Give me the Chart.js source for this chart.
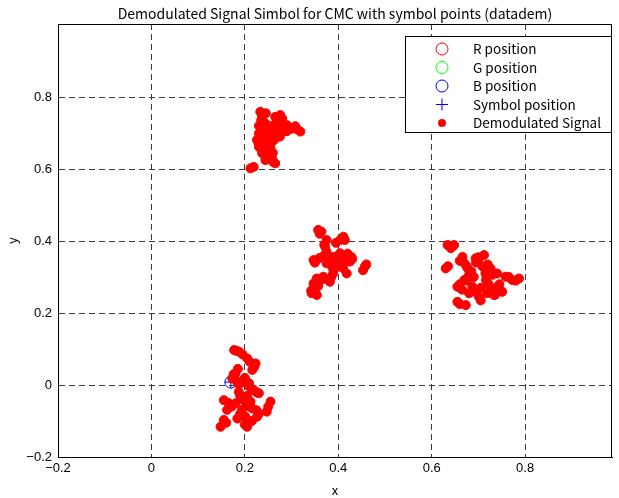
<!DOCTYPE html>
<html lang="en">
  <head>
    <meta charset="UTF-8" />
    <title>Demodulated Signal Simbol for CMC</title>
    <script src="https://cdn.jsdelivr.net/npm/chart.js"></script>
    <style>
      body {
        margin: 0;
        background-color: #ffffff;
      }
      #wrap {
        width: 619px;
        height: 498px;
      }
    </style>
  </head>
  <body>
    <div id="wrap"><canvas id="demodChart" width="619" height="498"></canvas></div>
    <script>
      // reference symbol positions, [x, y]
      const rPosition = [[0.733, 0.255], [0.393, 0.33]];
      const gPosition = [[0.285, 0.718], [0.393, 0.33]];
      const bPosition = [[0.17, 0.008], [0.393, 0.33]];
      const symbolPosition = [[0.17, 0.008], [0.285, 0.718], [0.393, 0.33], [0.733, 0.255]];

      // demodulated samples, one list per symbol cluster
      const clusterTop = [
        [0.233, 0.759], [0.237, 0.745], [0.244, 0.727], [0.276, 0.75], [0.272, 0.736],
        [0.262, 0.722], [0.255, 0.708], [0.294, 0.717], [0.308, 0.719], [0.319, 0.704],
        [0.23, 0.699], [0.226, 0.681], [0.24, 0.69], [0.265, 0.699], [0.279, 0.704],
        [0.23, 0.662], [0.237, 0.644], [0.247, 0.639], [0.258, 0.63], [0.265, 0.616],
        [0.244, 0.625], [0.255, 0.657], [0.219, 0.606], [0.212, 0.602], [0.25, 0.68],
        [0.26, 0.69], [0.245, 0.665], [0.27, 0.715], [0.285, 0.71], [0.25, 0.72],
        [0.265, 0.745], [0.24, 0.65], [0.229, 0.672], [0.252, 0.648], [0.3, 0.712],
        [0.235, 0.735], [0.24, 0.71], [0.25, 0.7], [0.26, 0.71], [0.268, 0.725],
        [0.28, 0.725], [0.29, 0.705], [0.235, 0.68], [0.245, 0.675], [0.255, 0.67],
        [0.262, 0.68], [0.27, 0.69], [0.235, 0.655], [0.245, 0.65], [0.26, 0.645],
        [0.252, 0.632], [0.26, 0.62], [0.275, 0.69], [0.245, 0.755], [0.28, 0.74],
        [0.312, 0.71], [0.23, 0.72], [0.283, 0.718], [0.29, 0.722]
      ];
      const clusterMid = [
        [0.357, 0.431], [0.364, 0.426], [0.375, 0.403], [0.372, 0.384], [0.375, 0.37],
        [0.411, 0.412], [0.414, 0.403], [0.404, 0.403], [0.347, 0.347], [0.382, 0.347],
        [0.404, 0.366], [0.396, 0.347], [0.428, 0.356], [0.425, 0.343], [0.411, 0.338],
        [0.457, 0.329], [0.453, 0.319], [0.418, 0.31], [0.354, 0.296], [0.347, 0.282],
        [0.368, 0.301], [0.382, 0.287], [0.389, 0.31], [0.343, 0.255], [0.354, 0.25],
        [0.375, 0.338], [0.37, 0.36], [0.39, 0.356], [0.398, 0.33], [0.36, 0.42],
        [0.37, 0.39], [0.38, 0.355], [0.39, 0.34], [0.4, 0.36], [0.415, 0.345],
        [0.42, 0.365], [0.36, 0.29], [0.37, 0.295], [0.385, 0.3], [0.35, 0.34],
        [0.395, 0.395], [0.41, 0.325], [0.357, 0.275], [0.342, 0.262], [0.36, 0.353],
        [0.43, 0.35], [0.46, 0.335], [0.388, 0.325]
      ];
      const clusterRight = [
        [0.634, 0.389], [0.648, 0.389], [0.641, 0.38], [0.63, 0.324], [0.666, 0.356],
        [0.67, 0.338], [0.677, 0.324], [0.694, 0.352], [0.712, 0.361], [0.709, 0.329],
        [0.726, 0.324], [0.73, 0.306], [0.68, 0.306], [0.67, 0.292], [0.655, 0.273],
        [0.687, 0.273], [0.716, 0.292], [0.758, 0.301], [0.772, 0.292], [0.787, 0.296],
        [0.737, 0.269], [0.751, 0.259], [0.719, 0.255], [0.68, 0.255], [0.655, 0.231],
        [0.673, 0.222], [0.701, 0.245], [0.7, 0.345], [0.722, 0.28], [0.69, 0.3],
        [0.645, 0.385], [0.635, 0.33], [0.66, 0.345], [0.675, 0.33], [0.685, 0.315],
        [0.7, 0.355], [0.715, 0.31], [0.72, 0.335], [0.74, 0.31], [0.745, 0.28],
        [0.73, 0.26], [0.765, 0.3], [0.78, 0.29], [0.66, 0.28], [0.665, 0.265],
        [0.675, 0.29], [0.69, 0.26], [0.705, 0.27], [0.66, 0.225], [0.705, 0.235],
        [0.695, 0.34], [0.735, 0.25], [0.728, 0.258]
      ];
      const clusterBottom = [
        [0.177, 0.097], [0.187, 0.093], [0.205, 0.074], [0.223, 0.06], [0.216, 0.042],
        [0.18, 0.032], [0.173, 0.018], [0.191, 0.005], [0.209, 0.005], [0.219, -0.014],
        [0.23, -0.023], [0.187, -0.019], [0.155, -0.042], [0.18, -0.051], [0.212, -0.046],
        [0.255, -0.046], [0.247, -0.074], [0.162, -0.069], [0.194, -0.069], [0.216, -0.065],
        [0.184, -0.093], [0.201, -0.088], [0.226, -0.088], [0.155, -0.097], [0.148, -0.116],
        [0.205, -0.116], [0.194, -0.037], [0.2, 0.02], [0.185, 0.045], [0.205, -0.03],
        [0.182, 0.095], [0.195, 0.085], [0.21, 0.065], [0.22, 0.05], [0.176, 0.03],
        [0.18, 0.015], [0.195, 0.01], [0.21, -0.005], [0.225, -0.02], [0.19, -0.03],
        [0.2, -0.045], [0.165, -0.05], [0.172, -0.06], [0.21, -0.06], [0.225, -0.07],
        [0.25, -0.06], [0.19, -0.08], [0.215, -0.1], [0.16, -0.105], [0.2, -0.11],
        [0.23, -0.08], [0.185, 0.005]
      ];

      const toPoints = (list) => list.map(([x, y]) => ({ x, y }));
      const demodulated = [].concat(clusterTop, clusterMid, clusterRight, clusterBottom);

      const gothic = "'Noto Sans CJK JP', 'Noto Sans', sans-serif";
      const gridDash = [6, 4];

      function tickText(v) {
        const r = Math.round(v * 10) / 10;
        if (r > 0.95) return "";
        if (r === 0) return "0";
        return r.toFixed(1).replace("-", "\u2212");
      }

      function drawMarker(ctx, style, x, y, color) {
        ctx.save();
        ctx.strokeStyle = color;
        ctx.fillStyle = color;
        ctx.lineWidth = 1;
        ctx.beginPath();
        if (style === "circle") {
          ctx.arc(x, y, 6, 0, Math.PI * 2);
          ctx.stroke();
        } else if (style === "cross") {
          ctx.moveTo(x - 6, y);
          ctx.lineTo(x + 6, y);
          ctx.moveTo(x, y - 6);
          ctx.lineTo(x, y + 6);
          ctx.stroke();
        } else {
          ctx.arc(x, y, 4, 0, Math.PI * 2);
          ctx.fill();
        }
        ctx.restore();
      }

      // axes frame and the boxed legend in the upper right corner
      const frameAndLegend = {
        id: "frameAndLegend",
        afterDraw(chart) {
          const ctx = chart.ctx;
          const { left, right, top, bottom } = chart.chartArea;
          ctx.save();
          ctx.strokeStyle = "#000";
          ctx.lineWidth = 1;
          ctx.strokeRect(Math.round(left) + 0.5, Math.round(top) + 0.5,
            Math.round(right - left) - 1, Math.round(bottom - top));

          const x0 = Math.round(right) - 207;
          const y0 = Math.round(top) + 12;
          ctx.fillStyle = "#fff";
          ctx.fillRect(x0, y0, 206, 96);
          ctx.strokeRect(x0 + 0.5, y0 + 0.5, 206, 96);

          ctx.font = "13.5px " + gothic;
          ctx.textBaseline = "middle";
          ctx.textAlign = "left";
          chart.data.datasets.forEach((ds, i) => {
            const y = y0 + 13 + i * 18.5;
            drawMarker(ctx, ds.legendMarker, x0 + 37, y, ds.borderColor);
            ctx.fillStyle = "#000";
            ctx.fillText(ds.label, x0 + 68, y);
          });
          ctx.restore();
        },
      };

      const ctx = document.getElementById("demodChart").getContext("2d");
      new Chart(ctx, {
        type: "scatter",
        data: {
          datasets: [
            {
              label: "R position",
              data: toPoints(rPosition),
              pointStyle: "circle",
              pointRadius: 6,
              borderWidth: 1,
              borderColor: "#ff0000",
              backgroundColor: "rgba(0,0,0,0)",
              legendMarker: "circle",
              order: 1,
            },
            {
              label: "G position",
              data: toPoints(gPosition),
              pointStyle: "circle",
              pointRadius: 6,
              borderWidth: 1,
              borderColor: "#00ff00",
              backgroundColor: "rgba(0,0,0,0)",
              legendMarker: "circle",
              order: 1,
            },
            {
              label: "B position",
              data: toPoints(bPosition),
              pointStyle: "circle",
              pointRadius: 6,
              borderWidth: 1,
              borderColor: "#0000ff",
              backgroundColor: "rgba(0,0,0,0)",
              legendMarker: "circle",
              order: 1,
            },
            {
              label: "Symbol position",
              data: toPoints(symbolPosition),
              pointStyle: "cross",
              pointRadius: 6,
              borderWidth: 1,
              borderColor: "#0000ff",
              backgroundColor: "#0000ff",
              legendMarker: "cross",
              order: 1,
            },
            {
              label: "Demodulated Signal",
              data: toPoints(demodulated),
              pointStyle: "circle",
              pointRadius: 4.5,
              borderWidth: 1,
              borderColor: "#ff0000",
              backgroundColor: "#ff0000",
              legendMarker: "dot",
              order: 0,
            },
          ],
        },
        options: {
          responsive: false,
          animation: false,
          layout: { padding: { left: 0, right: 5, top: 0, bottom: 0 } },
          scales: {
            x: {
              type: "linear",
              min: -0.2,
              max: 0.986,
              afterFit: (scale) => { scale.height = 41; },
              ticks: {
                stepSize: 0.2,
                includeBounds: false,
                padding: 4,
                color: "#000",
                font: { family: "'Liberation Sans', Arial, sans-serif", size: 13 },
                maxRotation: 0,
                callback: (v) => tickText(v),
              },
              grid: {
                color: (c) => (c.tick && c.tick.value < -0.15 ? "rgba(0,0,0,0)" : "#3a3a3a"),
                drawTicks: false,
              },
              border: { display: true, color: "#000", dash: gridDash },
              title: {
                display: true,
                text: "x",
                color: "#000",
                font: { family: gothic, size: 13 },
                padding: { top: 0, bottom: 0 },
              },
            },
            y: {
              type: "linear",
              min: -0.2,
              max: 1.003,
              afterFit: (scale) => { scale.width = 58; },
              ticks: {
                stepSize: 0.2,
                includeBounds: false,
                padding: 6,
                color: "#000",
                font: { family: "'Liberation Sans', Arial, sans-serif", size: 13 },
                callback: (v) => tickText(v),
              },
              grid: {
                color: (c) => (c.tick && (c.tick.value < -0.15 || c.tick.value > 0.95) ? "rgba(0,0,0,0)" : "#3a3a3a"),
                drawTicks: false,
              },
              border: { display: true, color: "#000", dash: gridDash },
              title: {
                display: true,
                text: "y",
                color: "#000",
                font: { family: gothic, size: 13 },
                padding: { top: 4, bottom: 0 },
              },
            },
          },
          plugins: {
            legend: { display: false },
            tooltip: { enabled: false },
            title: {
              display: true,
              fullSize: false,
              text: "Demodulated Signal Simbol for CMC with symbol points (datadem)",
              color: "#000",
              font: { family: gothic, size: 14, weight: "normal" },
              padding: { top: 5, bottom: 2.2 },
            },
          },
        },
        plugins: [frameAndLegend],
      });
    </script>
  </body>
</html>
